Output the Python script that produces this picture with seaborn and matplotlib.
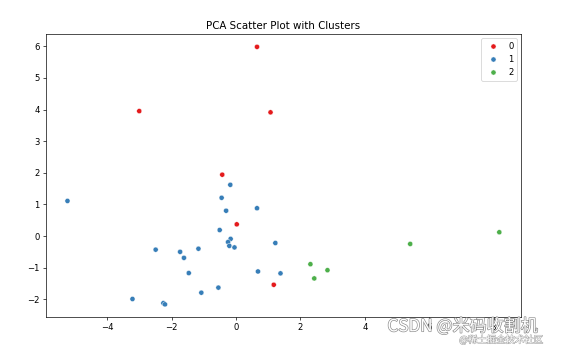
import matplotlib
matplotlib.use("Agg")
import matplotlib.pyplot as plt
import matplotlib.patheffects as pe
import seaborn as sns
import pandas as pd

pc1 = [-3.01, 0.65, 1.07, -0.43, 0.02, 1.17,
       -5.24, -0.18, -0.45, -0.31, 0.65, -0.51, -0.17, -0.25, -0.21, -0.05,
       1.22, -2.50, -1.74, -1.62, -1.17, -1.47, 0.68, 1.38, -0.55, -1.08,
       -3.22, -2.26, -2.21,
       2.31, 2.84, 2.43, 5.41, 8.18]
pc2 = [3.95, 5.98, 3.91, 1.94, 0.37, -1.54,
       1.11, 1.62, 1.21, 0.80, 0.88, 0.19, -0.09, -0.19, -0.31, -0.36,
       -0.22, -0.43, -0.50, -0.69, -0.40, -1.17, -1.12, -1.18, -1.63, -1.79,
       -1.99, -2.12, -2.16,
       -0.89, -1.08, -1.34, -0.25, 0.12]
cluster = [0] * 6 + [1] * 23 + [2] * 5

df = pd.DataFrame({"PC1": pc1, "PC2": pc2, "Cluster": cluster})

DPI = 61.4
fig = plt.figure(figsize=(574 / DPI, 347 / DPI), dpi=DPI)
ax = fig.add_axes([0.080, 0.0873, 0.828, 0.815])
sns.scatterplot(data=df, x="PC1", y="PC2", hue="Cluster", palette="Set1", ax=ax)
ax.set_xlim(-5.91, 8.86)
ax.set_ylim(-2.55, 6.39)
ax.set_title("PCA Scatter Plot with Clusters")
ax.set_xlabel("")
ax.set_ylabel("")
ax.legend(loc="upper right")

fig.text(0.675, 0.045, "CSDN @米码收割机", fontsize=20, color="white",
         family=["Noto Sans CJK SC", "DejaVu Sans"],
         path_effects=[pe.withStroke(linewidth=1.5, foreground="#888888")])
fig.text(0.8, 0.012, "@稀土掘金技术社区", fontsize=11, color="white",
         family=["Noto Sans CJK SC", "DejaVu Sans"],
         path_effects=[pe.withStroke(linewidth=1.2, foreground="#aaaaaa")])

fig.savefig("out.png", dpi=DPI)
